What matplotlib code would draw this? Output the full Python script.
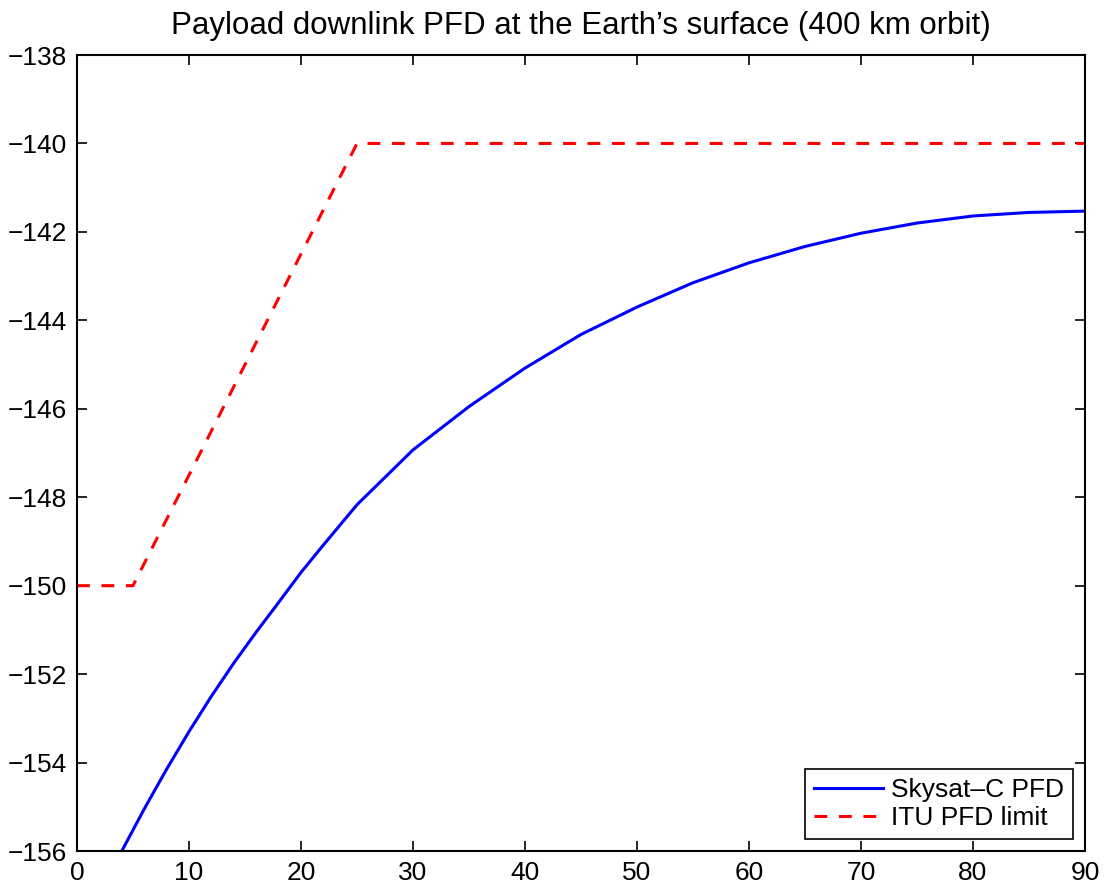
import numpy as np
import matplotlib.pyplot as plt

# elevation angle (deg) vs PFD values
elev = [4, 6, 8, 10, 12, 14, 16, 18, 20, 22, 25, 30, 35, 40, 45,
        50, 55, 60, 65, 70, 75, 80, 85, 90]
pfd = [-156.0, -155.05, -154.15, -153.3, -152.5, -151.75, -151.05, -150.38,
       -149.7, -149.08, -148.17, -146.93, -145.95, -145.08, -144.32,
       -143.7, -143.15, -142.7, -142.33, -142.03, -141.8, -141.64, -141.56, -141.53]

itu_elev = [0, 5, 25, 90]
itu_limit = [-150, -150, -140, -140]

plt.rcParams['font.family'] = ['Liberation Sans', 'DejaVu Sans']

fig = plt.figure(figsize=(11.08, 8.90), dpi=100)
ax = fig.add_axes([0.0695, 0.0438, 0.9097, 0.8944])

ax.plot(elev, pfd, color='blue', lw=2.2, label='Skysat\u2013C PFD')
ax.plot(itu_elev, itu_limit, color='red', lw=2.2, ls=(0, (4.2, 3.8)), label='ITU PFD limit')

ax.set_xlim(0, 90)
ax.set_ylim(-156, -138)
ax.set_xticks(np.arange(0, 91, 10))
ax.set_yticks(np.arange(-156, -137, 2))
ax.tick_params(direction='in', top=True, right=True, length=7, width=1.2,
               labelsize=19, pad=7)
for s in ax.spines.values():
    s.set_linewidth(1.5)

ax.set_title('Payload downlink PFD at the Earth\u2019s surface (400 km orbit)', fontsize=22.5, pad=15)

leg = ax.legend(loc='lower right', fontsize=19, fancybox=False, framealpha=1,
                edgecolor='black', handlelength=2.6, borderaxespad=0.45,
                handletextpad=0.3, labelspacing=0.15, borderpad=0.35)
leg.get_frame().set_linewidth(1.2)

fig.savefig('out.png', dpi=100)
